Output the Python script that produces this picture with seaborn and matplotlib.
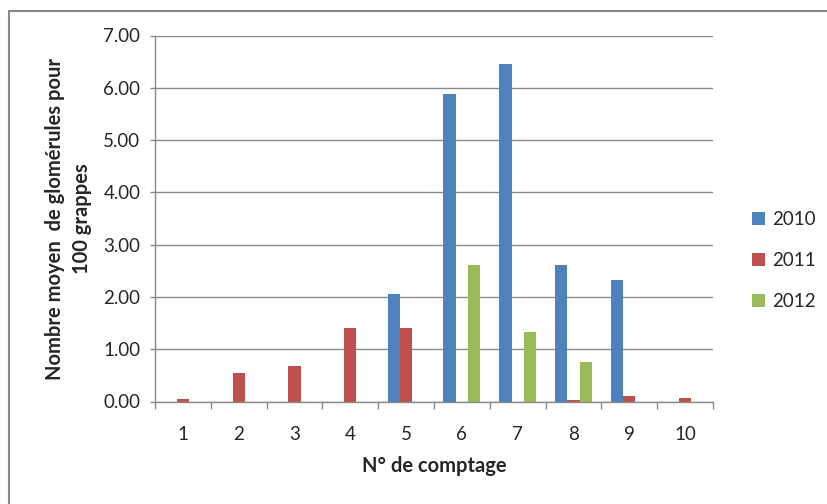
import matplotlib
matplotlib.use("Agg")
import matplotlib.pyplot as plt
import seaborn as sns
import pandas as pd
from matplotlib.patches import Patch
from matplotlib.lines import Line2D

categories = ["1", "2", "3", "4", "5", "6", "7", "8", "9", "10"]
series_names = ["2010", "2011", "2012"]
v2010 = [0, 0, 0, 0, 2.06, 5.88, 6.45, 2.62, 2.33, 0]
v2011 = [0.04, 0.54, 0.67, 1.40, 1.40, 0, 0, 0.03, 0.10, 0.07]
v2012 = [0, 0, 0, 0, 0, 2.62, 1.33, 0.76, 0, 0]
colors = ["#4F81BD", "#C0504D", "#9BBB59"]
yticks = [0, 1, 2, 3, 4, 5, 6, 7]

rows = []
for name, vals in zip(series_names, [v2010, v2011, v2012]):
    for c, v in zip(categories, vals):
        rows.append({"cat": c, "year": name, "val": v})
df = pd.DataFrame(rows)

sns.set_theme(style="white")
plt.rcParams["font.family"] = ["Lato", "DejaVu Sans"]

FS = 13.5
FT = 14.5
GREY = "#8a8a8a"

fig = plt.figure(figsize=(8.28, 5.04), dpi=100)
ax = fig.add_axes([155/828, 1-401.5/504, (713-155)/828, (401.5-35.5)/504])

sns.barplot(data=df, x="cat", y="val", hue="year", order=categories,
            hue_order=series_names, palette=colors, width=0.66,
            saturation=1, ax=ax, legend=False, errorbar=None, linewidth=0)

ax.set_ylim(0, 7)
ax.set_xlim(-0.5, 9.5)
ax.set_yticks(yticks)
ax.set_yticklabels([f"{t:.2f}" for t in yticks], fontsize=FS)
ax.yaxis.grid(True, color=GREY, linewidth=1)
ax.set_axisbelow(True)
for s in ["top", "right"]:
    ax.spines[s].set_visible(False)
for s in ["left", "bottom"]:
    ax.spines[s].set_color(GREY)
    ax.spines[s].set_linewidth(1)

ax.tick_params(axis="y", which="major", left=True, length=3.6, width=1,
               color=GREY, pad=7)
ax.tick_params(axis="x", which="major", bottom=False, length=0,
               labelsize=FS, pad=18)
ax.set_xticks([i - 0.5 for i in range(11)], minor=True)
ax.tick_params(axis="x", which="minor", bottom=True, length=5, width=1,
               color=GREY)

ax.set_xlabel("N° de comptage", fontsize=FT, fontweight="bold", labelpad=9)
ax.set_ylabel("Nombre moyen  de glomérules pour\n100 grappes", fontsize=FT,
              fontweight="bold", labelpad=8, linespacing=1.45)

handles = [Patch(facecolor=c, edgecolor="none") for c in colors]
fig.legend(handles, series_names, loc="center left",
           bbox_to_anchor=(735/828, 1-260.5/504), frameon=False, fontsize=FS,
           handlelength=0.7, handleheight=0.7, labelspacing=1.26,
           handletextpad=0.37)

fig.add_artist(Line2D([9/828, 9/828], [0, 1-11/504], transform=fig.transFigure,
                      color=GREY, linewidth=1.5))
fig.add_artist(Line2D([9/828, 1], [1-11/504, 1-11/504], transform=fig.transFigure,
                      color=GREY, linewidth=1.5))

fig.savefig("out.png", dpi=100)
